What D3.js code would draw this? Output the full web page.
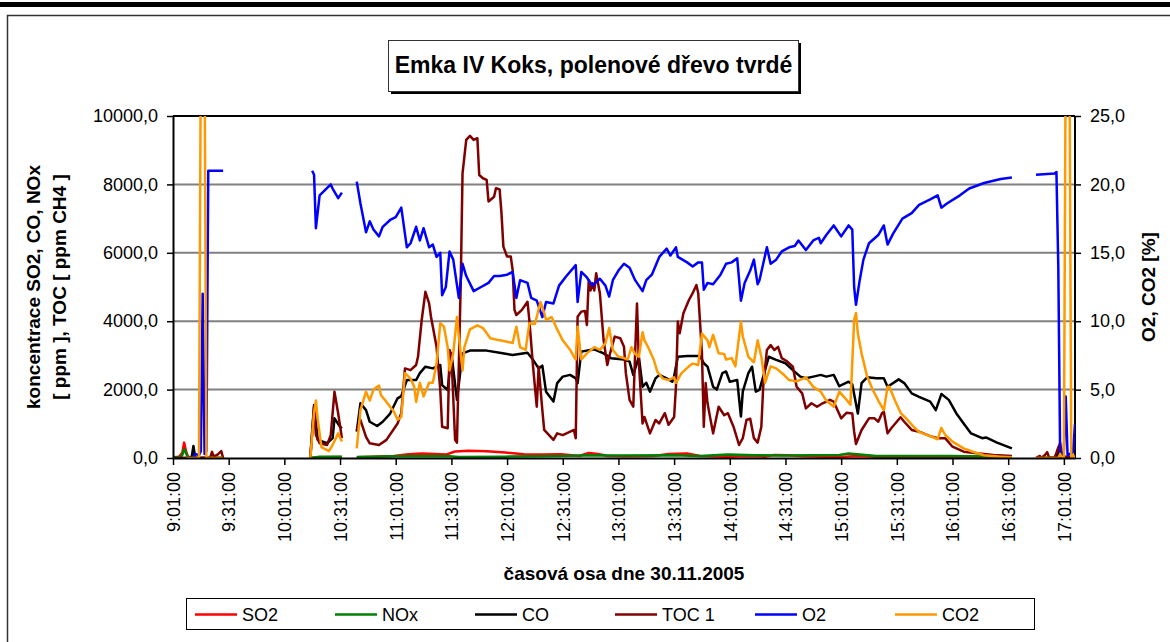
<!DOCTYPE html>
<html>
<head>
<meta charset="utf-8">
<script src="https://cdn.jsdelivr.net/npm/d3@7"></script>
<style>
  body { margin: 0; background: #fff; }
  text { font-family: "Liberation Sans", Arial, sans-serif; }
</style>
</head>
<body>
<div class="chart"></div>
<script>
// --- data (time, value); null = gap in the record ---
var so2 = [["9:01",0],["9:04",20],["9:06",150],["9:07",450],["9:08",200],["9:09",40],["9:12",10],["9:20",0],["9:28",0],["9:29",null],
  ["10:15",0],["10:20",20],["10:32",30],["10:34",null],
  ["10:40",20],["10:50",40],["11:00",60],["11:08",110],["11:15",130],["11:22",120],["11:28",100],["11:33",190],["11:40",210],["11:50",200],
  ["12:00",160],["12:10",110],["12:20",100],["12:30",110],["12:40",60],["12:45",150],["12:50",120],["12:55",60],["13:05",50],["13:20",60],
  ["13:28",120],["13:38",130],["13:45",60],["14:00",40],["14:10",60],["14:20",40],["14:25",90],["14:32",80],["14:40",50],["15:00",30],
  ["15:10",60],["15:20",40],["15:40",30],["16:00",20],["16:33",10],["16:40",null],
  ["16:46",0],["17:07",0]];

var nox = [["9:01",20],["9:05",40],["9:06",80],["9:07",260],["9:08",150],["9:09",30],["9:12",0],["9:28",0],["9:29",null],
  ["10:15",0],["10:20",40],["10:32",40],["10:34",null],
  ["10:40",30],["11:00",50],["11:20",60],["11:30",50],["11:35",30],["12:00",40],["12:30",60],["12:45",80],["13:00",70],["13:30",80],
  ["13:45",60],["14:00",100],["14:15",80],["14:30",70],["15:00",90],["15:05",130],["15:20",60],["16:00",60],["16:33",40],["16:40",null],
  ["16:46",0],["17:07",0]];

var co = [["9:05",0],["9:11",0],["9:12",350],["9:13",0],["9:28",0],["9:29",null],
  ["10:15",0],["10:17",1550],["10:19",530],["10:24",430],["10:27",580],["10:28",1160],["10:31",915],["10:32",870],["10:34",null],
  ["10:40",770],["10:42",1600],["10:45",1400],["10:47",1060],["10:51",935],["10:54",1060],["10:58",1300],["11:02",1745],["11:04",1810],
  ["11:07",2280],["11:12",2280],["11:14",2480],["11:17",2670],["11:21",2620],["11:25",2720],["11:26",2130],["11:29",1990],["11:31",3060],
  ["11:34",1700],["11:37",3060],["11:41",3140],["11:50",3140],["11:57",3080],["12:04",3010],["12:12",3080],["12:15",2870],["12:18",2620],
  ["12:20",2700],["12:22",1940],["12:26",1650],["12:28",2190],["12:31",2380],["12:35",2430],["12:38",2330],["12:39",2190],["12:41",3110],
  ["12:48",3180],["12:53",3060],["12:57",2920],["13:04",2880],["13:07",2820],["13:09",2430],["13:12",2960],["13:14",2085],["13:16",2200],
  ["13:18",1940],["13:21",2330],["13:23",2430],["13:27",2330],["13:30",2230],["13:31",2380],["13:33",2960],["13:38",2980],["13:45",2980],
  ["13:47",2770],["13:49",2670],["13:50",2480],["13:52",2085],["13:54",2000],["13:57",2480],["13:59",2530],["14:01",2230],["14:05",2280],
  ["14:07",1210],["14:08",1940],["14:11",2480],["14:13",2670],["14:15",1940],["14:17",1990],["14:19",2380],["14:22",2960],["14:26",2870],
  ["14:31",2770],["14:35",2570],["14:39",2380],["14:42",2330],["14:46",2380],["14:50",2430],["14:53",2380],["14:57",2430],["15:00",2100],
  ["15:05",2230],["15:07",2150],["15:10",1300],["15:12",2190],["15:15",2360],["15:20",2330],["15:24",2330],["15:26",2085],["15:32",2300],
  ["15:35",2190],["15:39",1890],["15:43",1790],["15:49",1650],["15:52",1400],["15:55",1870],["15:59",1700],["16:03",1310],["16:07",1010],
  ["16:11",720],["16:17",580],["16:19",600],["16:25",450],["16:33",280],["16:40",null],
  ["16:46",0],["16:57",0],["16:58",300],["16:59",0],["17:07",0]];

var toc = [["9:01",0],["9:21",0],["9:22",180],["9:23",40],["9:25",100],["9:27",200],["9:28",0],["9:29",null],
  ["10:15",50],["10:17",1500],["10:18",670],["10:20",430],["10:24",380],["10:26",670],["10:28",1940],["10:30",1300],["10:32",580],["10:34",null],
  ["10:40",820],["10:42",1110],["10:45",620],["10:47",430],["10:52",380],["10:56",530],["11:02",1010],["11:04",1310],["11:06",2620],
  ["11:09",2570],["11:12",2720],["11:13",2960],["11:15",4035],["11:17",4860],["11:19",4520],["11:20",4130],["11:23",3250],["11:25",2000],
  ["11:26",915],["11:29",870],["11:30",3160],["11:31",3000],["11:33",530],["11:34",450],["11:36",5010],["11:37",8320],["11:39",9300],
  ["11:41",9420],["11:43",9300],["11:45",9350],["11:46",8275],["11:48",8180],["11:50",8130],["11:51",7500],["11:54",7640],["11:55",7890],
  ["11:57",7850],["11:58",7150],["11:59",6180],["12:01",5890],["12:03",5890],["12:04",5500],["12:05",4330],["12:06",4180],["12:09",4330],
  ["12:12",4570],["12:13",4035],["12:15",2670],["12:17",1500],["12:18",2670],["12:20",1400],["12:21",820],["12:26",530],["12:28",720],
  ["12:31",670],["12:35",770],["12:37",820],["12:38",580],["12:39",4130],["12:41",4280],["12:43",4300],["12:44",3890],["12:45",5200],
  ["12:46",4900],["12:47",5110],["12:48",4900],["12:49",5400],["12:51",4820],["12:53",3450],["12:55",2720],["12:56",2960],["12:59",3550],
  ["13:02",3500],["13:04",3250],["13:05",2480],["13:07",1700],["13:09",1500],["13:10",3060],["13:11",4520],["13:12",2800],["13:14",1010],
  ["13:15",1200],["13:18",720],["13:21",1110],["13:23",1010],["13:26",1310],["13:28",970],["13:31",1200],["13:32",2085],["13:33",3990],
  ["13:34",3650],["13:36",4230],["13:39",4620],["13:41",4820],["13:43",5060],["13:44",4820],["13:46",3060],["13:47",915],["13:48",2190],
  ["13:49",1600],["13:52",720],["13:55",1500],["13:58",1250],["14:00",1310],["14:03",915],["14:06",380],["14:08",580],["14:10",1110],
  ["14:12",1150],["14:14",580],["14:16",450],["14:18",915],["14:19",2085],["14:21",3160],["14:23",3300],["14:25",3160],["14:27",3250],
  ["14:29",2920],["14:32",2820],["14:35",2670],["14:37",2085],["14:40",1890],["14:42",1450],["14:45",1600],["14:48",1500],["14:51",1600],
  ["14:53",1650],["14:55",1700],["14:57",1650],["14:59",1400],["15:01",1160],["15:04",1325],["15:07",1300],["15:08",770],["15:09",410],
  ["15:12",820],["15:16",1160],["15:19",1160],["15:21",1060],["15:23",1310],["15:24",1350],["15:26",720],["15:28",870],["15:33",1190],
  ["15:35",1060],["15:39",820],["15:43",770],["15:49",640],["15:53",580],["15:57",580],["16:01",330],["16:07",185],["16:14",140],
  ["16:23",90],["16:33",60],["16:40",null],
  ["16:46",0],["16:48",60],["16:49",0],["16:51",100],["16:52",170],["16:53",20],["16:56",0],["16:58",300],["16:59",440],["17:00",50],["17:07",0]];

var o2 = [["9:12",0],["9:13",0.3],["9:15",0.2],["9:16",0.5],["9:17",12],["9:18",0.3],["9:19",0.5],["9:20",21.0],["9:28",21.0],["9:29",null],
  ["10:16",21.0],["10:17",20.7],["10:18",16.8],["10:20",19.2],["10:23",19.6],["10:26",20.0],["10:27",19.7],["10:30",19.0],["10:32",19.4],["10:34",null],
  ["10:40",20.2],["10:42",18.6],["10:45",16.5],["10:47",17.3],["10:49",16.7],["10:52",16.2],["10:54",16.9],["10:58",17.4],["11:01",17.6],
  ["11:04",18.3],["11:07",15.4],["11:09",15.7],["11:12",16.9],["11:14",15.9],["11:16",16.8],["11:19",15.4],["11:21",15.6],["11:23",14.7],
  ["11:25",15.0],["11:26",11.9],["11:28",12.5],["11:30",15.1],["11:32",14.5],["11:35",11.7],["11:37",14.2],["11:39",13.3],["11:43",12.2],
  ["11:47",12.5],["11:51",12.8],["11:54",13.3],["11:57",13.3],["12:01",13.4],["12:04",13.6],["12:06",11.7],["12:08",13.0],["12:12",12.8],
  ["12:14",11.7],["12:17",11.5],["12:20",10.3],["12:22",11.4],["12:26",11.3],["12:29",12.6],["12:33",13.3],["12:38",14.1],["12:39",11.4],
  ["12:41",13.6],["12:44",13.2],["12:47",12.6],["12:51",13.1],["12:54",12.6],["12:56",11.8],["12:58",13.0],["13:01",13.7],["13:04",14.2],
  ["13:07",13.9],["13:10",13.0],["13:14",12.2],["13:16",13.0],["13:19",13.4],["13:23",14.7],["13:27",15.3],["13:29",14.8],["13:32",15.4],
  ["13:33",14.7],["13:38",14.3],["13:41",14.0],["13:44",14.3],["13:46",14.3],["13:47",12.3],["13:49",12.8],["13:52",12.7],["13:56",13.4],
  ["13:59",14.2],["14:02",14.3],["14:05",14.6],["14:07",11.5],["14:09",12.8],["14:12",13.7],["14:14",14.5],["14:16",12.7],["14:17",13.0],
  ["14:19",14.2],["14:21",15.4],["14:23",14.2],["14:26",14.5],["14:29",15.1],["14:33",15.4],["14:36",15.5],["14:38",15.9],["14:42",15.2],
  ["14:46",15.9],["14:49",16.1],["14:50",15.7],["14:53",16.3],["14:57",17.0],["15:01",16.2],["15:05",17.0],["15:07",16.7],["15:08",12.5],
  ["15:09",11.2],["15:11",13.0],["15:13",14.5],["15:16",15.7],["15:21",16.3],["15:24",17.0],["15:26",15.6],["15:29",16.4],["15:34",17.5],
  ["15:39",17.9],["15:43",18.5],["15:49",18.9],["15:53",19.2],["15:55",18.3],["15:58",18.6],["16:05",19.2],["16:10",19.7],["16:18",20.1],
  ["16:27",20.4],["16:33",20.5],["16:40",null],
  ["16:46",20.7],["16:56",20.8],["16:57",20.9],["16:58",14.0],["16:59",0.3],["17:00",0.2],["17:01",0.5],["17:02",4.5],["17:03",0.2],
  ["17:04",0.3],["17:05",0.2],["17:06",0.5],["17:07",2.5]];

var co2 = [["9:08",0],["9:15",0],["9:16",30],["9:18",30],["9:19",0],["9:28",0],["9:29",null],
  ["10:15",0],["10:17",3.3],["10:18",4.2],["10:19",2.8],["10:21",0.8],["10:25",0.5],["10:27",0.95],["10:30",1.8],["10:32",1.2],["10:34",null],
  ["10:40",0.7],["10:42",3.5],["10:45",4.85],["10:47",4.2],["10:49",5.0],["10:52",5.3],["10:53",4.6],["10:56",4.1],["11:00",3.4],
  ["11:02",2.8],["11:04",3.0],["11:06",6.2],["11:09",5.8],["11:11",5.2],["11:12",4.1],["11:14",5.5],["11:16",4.5],["11:19",5.5],
  ["11:21",5.5],["11:23",6.9],["11:25",9.85],["11:27",9.6],["11:29",8.1],["11:30",6.4],["11:32",7.65],["11:34",10.3],["11:35",8.9],
  ["11:37",6.4],["11:38",8.1],["11:41",9.4],["11:45",9.7],["11:48",9.5],["11:52",8.75],["11:57",8.6],["12:01",8.5],["12:04",8.4],
  ["12:06",9.6],["12:08",8.1],["12:11",7.9],["12:13",9.85],["12:16",9.8],["12:19",11.4],["12:21",10.6],["12:22",10.1],["12:25",10.3],
  ["12:28",9.4],["12:31",8.6],["12:35",7.9],["12:37",7.4],["12:38",7.2],["12:39",9.6],["12:41",7.2],["12:44",7.65],["12:48",8.1],
  ["12:51",7.9],["12:54",8.4],["12:56",9.5],["12:58",7.9],["13:01",7.4],["13:04",7.3],["13:06",7.2],["13:08",8.1],["13:10",7.6],
  ["13:12",7.4],["13:14",9.2],["13:15",8.6],["13:17",8.1],["13:20",7.2],["13:22",6.3],["13:25",5.8],["13:28",5.7],["13:31",5.9],
  ["13:32",5.5],["13:35",6.2],["13:39",6.7],["13:41",6.9],["13:44",6.8],["13:46",9.1],["13:49",8.6],["13:50",8.1],["13:52",9.0],
  ["13:55",7.65],["13:58",7.6],["13:59",7.2],["14:02",7.3],["14:04",6.7],["14:07",9.96],["14:08",8.9],["14:11",7.4],["14:14",7.0],
  ["14:16",8.6],["14:18",7.4],["14:20",5.5],["14:23",6.7],["14:26",6.55],["14:30",6.1],["14:33",5.7],["14:37",5.6],["14:42",5.9],
  ["14:46",5.2],["14:50",4.85],["14:53",4.2],["14:57",3.75],["15:00",4.85],["15:03",4.4],["15:06",3.9],["15:08",10.1],["15:09",10.6],
  ["15:10",9.1],["15:12",7.65],["15:15",5.95],["15:18",5.0],["15:21",4.2],["15:24",3.5],["15:26",5.2],["15:27",5.2],["15:30",4.2],
  ["15:33",3.3],["15:36",2.9],["15:40",2.3],["15:43",1.9],["15:49",1.6],["15:53",1.37],["15:55",2.2],["15:57",1.7],["16:01",1.2],
  ["16:07",0.7],["16:12",0.46],["16:18",0.2],["16:27",0.1],["16:33",0.05],["16:40",null],
  ["16:46",0],["16:58",0],["16:59",0.3],["17:00",0],["17:01",0],["17:02",30],["17:04",30],["17:05",0],["17:06",0.2],["17:07",0]];

var seriesNames = ["SO2", "NOx", "CO", "TOC 1", "O2", "CO2"];
var seriesColors = ["#ff0000", "#008000", "#000000", "#800000", "#0000ff", "#ff9900"];
var seriesAxis = ["left", "left", "left", "left", "right", "right"];

var xTickLabels = ["9:01:00","9:31:00","10:01:00","10:31:00","11:01:00","11:31:00","12:01:00","12:31:00","13:01:00",
  "13:31:00","14:01:00","14:31:00","15:01:00","15:31:00","16:01:00","16:31:00","17:01:00"];
var leftTicks = [0, 2000, 4000, 6000, 8000, 10000];
var rightTicks = [0, 5, 10, 15, 20, 25];

var titleText = "Emka IV Koks, polenové dřevo tvrdé";
var xTitle = "časová osa dne 30.11.2005";
var yLeftTitle = ["koncentrace SO2, CO, NOx", "[ ppm ], TOC [ ppm CH4 ]"];
var yRightTitle = "O2, CO2 [%]";

// --- layout ---
var svgWidth = 1170;
var svgHeight = 642;
var margin = { top: 116, left: 173 };
var width = 902;
var height = 342;

var svg = d3.select(".chart")
  .append("svg")
  .attr("width", svgWidth)
  .attr("height", svgHeight);

// outer frame
svg.append("rect").attr("x", 0).attr("y", 2).attr("width", svgWidth).attr("height", 5).attr("fill", "#000");
svg.append("rect").attr("x", 7.5).attr("y", 15.5).attr("width", 1200).attr("height", 700)
  .attr("fill", "none").attr("stroke", "#333").attr("stroke-width", 1.5);

// title box with shadow
svg.append("rect").attr("x", 391).attr("y", 43).attr("width", 410).attr("height", 51).attr("fill", "#000");
svg.append("rect").attr("x", 388.5).attr("y", 40.5).attr("width", 410).attr("height", 51)
  .attr("fill", "#fff").attr("stroke", "#333").attr("stroke-width", 1);
svg.append("text").attr("x", 593.5).attr("y", 73)
  .attr("text-anchor", "middle").attr("font-size", "23px").attr("font-weight", "bold")
  .text(titleText);

var chartGroup = svg.append("g")
  .attr("transform", `translate(${margin.left}, ${margin.top})`);

var parseTime = d3.timeParse("%H:%M");
var parseTick = d3.timeParse("%H:%M:%S");

var xScale = d3.scaleTime()
  .domain([parseTime("9:01"), parseTime("17:07")])
  .range([0, width]);
var yLeft = d3.scaleLinear().domain([0, 10000]).range([height, 0]);
var yRight = d3.scaleLinear().domain([0, 25]).range([height, 0]);

var commaFmt = d => d3.format(".1f")(d).replace(".", ",");

// gridlines
chartGroup.selectAll(".grid")
  .data(leftTicks.filter(d => d > 0 && d < 10000))
  .enter()
  .append("line")
  .attr("x1", 0).attr("x2", width)
  .attr("y1", d => yLeft(d)).attr("y2", d => yLeft(d))
  .attr("stroke", "#808080").attr("stroke-width", 2);

// plot border top / right
chartGroup.append("line").attr("x1", 0).attr("x2", width).attr("y1", 0).attr("y2", 0)
  .attr("stroke", "#000").attr("stroke-width", 2);
chartGroup.append("line").attr("x1", width).attr("x2", width).attr("y1", 0).attr("y2", height)
  .attr("stroke", "#000").attr("stroke-width", 2);

// lines
chartGroup.append("clipPath").attr("id", "plotClip")
  .append("rect").attr("x", 0).attr("y", 0).attr("width", width).attr("height", height);

var allSeries = [so2, nox, co, toc, o2, co2];
allSeries.forEach(function(data, i) {
  var yScale = seriesAxis[i] === "left" ? yLeft : yRight;
  var line = d3.line()
    .defined(d => d[1] !== null)
    .x(d => xScale(parseTime(d[0])))
    .y(d => yScale(d[1]));
  chartGroup.append("path")
    .datum(data)
    .attr("clip-path", "url(#plotClip)")
    .attr("fill", "none")
    .attr("stroke", seriesColors[i])
    .attr("stroke-width", 2.5)
    .attr("stroke-linejoin", "round")
    .attr("d", line);
});

// axes
var leftAxis = d3.axisLeft(yLeft).tickValues(leftTicks).tickFormat(commaFmt).tickSize(6).tickSizeOuter(0).tickPadding(9);
var rightAxis = d3.axisRight(yRight).tickValues(rightTicks).tickFormat(commaFmt).tickSize(6).tickSizeOuter(0).tickPadding(9);
var bottomAxis = d3.axisBottom(xScale).tickValues(xTickLabels.map(t => parseTick(t)))
  .tickFormat((d, i) => xTickLabels[i]).tickSize(7).tickSizeOuter(0);

var gl = chartGroup.append("g").call(leftAxis);
var gr = chartGroup.append("g").attr("transform", `translate(${width}, 0)`).call(rightAxis);
var gb = chartGroup.append("g").attr("transform", `translate(0, ${height})`).call(bottomAxis);

[gl, gr, gb].forEach(function(g) {
  g.select(".domain").attr("stroke", "#000").attr("stroke-width", 2);
  g.selectAll(".tick line").attr("stroke", "#000").attr("stroke-width", 1.5);
  g.selectAll("text").attr("font-size", "18px").attr("fill", "#000")
    .attr("font-family", "'Liberation Sans', Arial, sans-serif");
});
gr.select(".domain").attr("stroke-width", 0);

gb.selectAll(".tick text")
  .attr("transform", "rotate(-90)")
  .attr("text-anchor", "end")
  .attr("x", -14)
  .attr("y", 0)
  .attr("dy", "0.35em");

// axis titles
svg.append("text").attr("x", 624).attr("y", 580)
  .attr("text-anchor", "middle").attr("font-size", "19px").attr("font-weight", "bold")
  .text(xTitle);

yLeftTitle.forEach(function(t, i) {
  svg.append("text")
    .attr("transform", `translate(${33 + i * 26}, 287) rotate(-90)`)
    .attr("text-anchor", "middle").attr("dy", "0.35em")
    .attr("font-size", "19px").attr("font-weight", "bold")
    .text(t);
});

svg.append("text")
  .attr("transform", "translate(1148, 287) rotate(-90)")
  .attr("text-anchor", "middle").attr("dy", "0.35em")
  .attr("font-size", "19px").attr("font-weight", "bold")
  .text(yRightTitle);

// legend
var legend = svg.append("g");
legend.append("rect").attr("x", 186.5).attr("y", 598.5).attr("width", 848).attr("height", 31)
  .attr("fill", "#fff").attr("stroke", "#000").attr("stroke-width", 1);

var legendItems = legend.selectAll(".item")
  .data(seriesNames)
  .enter()
  .append("g")
  .attr("transform", (d, i) => `translate(${195 + i * 140}, 614.5)`);

legendItems.append("line")
  .attr("x1", 0).attr("x2", 42).attr("y1", 0).attr("y2", 0)
  .attr("stroke", (d, i) => seriesColors[i]).attr("stroke-width", 2.5);

legendItems.append("text")
  .attr("x", 47).attr("dy", "0.35em")
  .attr("font-size", "18px")
  .text(d => d);
</script>
</body>
</html>
